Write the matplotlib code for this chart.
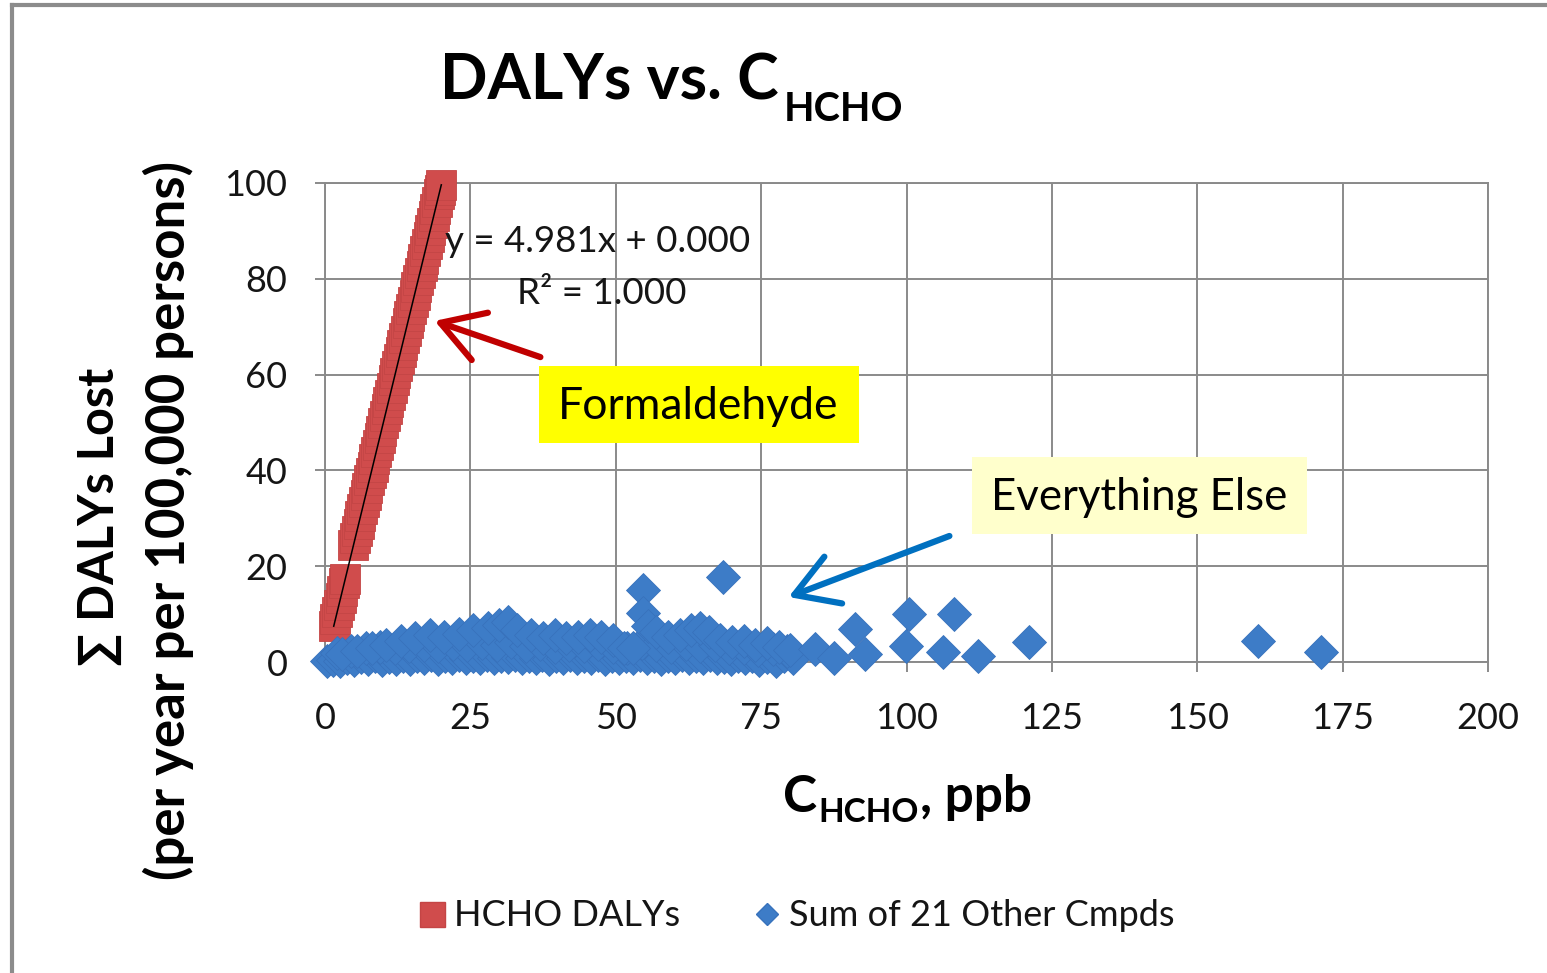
import matplotlib
matplotlib.use('Agg')
import matplotlib.pyplot as plt
import numpy as np
from matplotlib.lines import Line2D
from matplotlib.patches import Rectangle, FancyArrowPatch

plt.rcParams['font.family'] = ['Lato', 'DejaVu Sans']

# ---------------- data ----------------
red_x = [1.5, 1.8, 2.1, 2.4, 2.7, 3.0, 3.3, 3.5, 4.9, 5.2, 5.5, 5.8, 6.1, 6.4, 6.7,
         7.0, 7.3, 7.6, 7.9, 8.2, 8.5, 8.8, 9.1, 9.4, 9.7, 10.0, 10.3, 10.6, 10.9,
         11.2, 11.5, 11.8, 12.1, 12.4, 12.7, 13.0, 13.3, 13.6, 13.9, 14.2, 14.5,
         14.8, 15.1, 15.4, 15.7, 16.0, 16.3, 16.6, 16.9, 17.2, 17.5, 17.8, 18.1,
         18.4, 18.7, 19.0, 19.3, 19.6, 19.8, 20.0]
red_y = [7.5, 9.0, 10.5, 12.0, 13.4, 14.9, 16.4, 17.4, 24.4, 25.9, 27.4, 28.9, 30.4,
         31.9, 33.4, 34.9, 36.4, 37.9, 39.4, 40.8, 42.3, 43.8, 45.3, 46.8, 48.3,
         49.8, 51.3, 52.8, 54.3, 55.8, 57.3, 58.8, 60.3, 61.8, 63.3, 64.8, 66.2,
         67.7, 69.2, 70.7, 72.2, 73.7, 75.2, 76.7, 78.2, 79.7, 81.2, 82.7, 84.2,
         85.7, 87.2, 88.7, 90.2, 91.7, 93.1, 94.6, 96.1, 97.6, 98.6, 99.6]

blue_x = [0.3, 1.4, 2.6, 3.8, 5.0, 6.2, 7.4, 8.6, 9.8, 11.0, 12.2, 13.4, 14.6, 15.8,
          17.0, 18.2, 19.4, 20.6, 21.8, 23.0, 24.2, 25.4, 26.6, 27.8, 29.0, 30.2,
          31.4, 32.6, 33.8, 35.0, 36.2, 37.4, 38.6, 39.8, 41.0, 42.2, 43.4, 44.6,
          45.8, 47.0, 48.2, 49.4, 50.6, 51.8, 53.0, 54.2, 55.4, 56.6, 57.8, 59.0,
          60.2, 61.4, 62.6, 63.8, 65.0, 66.2, 67.4, 68.6, 69.8, 71.0, 72.2, 73.4,
          74.6, 76.0, 77.5, 79.0, 80.5,
          2.0, 4.5, 7.0, 9.5, 12.0, 14.5, 17.0, 19.5, 22.0, 24.5, 27.0, 29.5, 32.0,
          34.5, 37.0, 39.5, 42.0, 44.5, 47.0, 49.5, 52.0, 54.5, 57.0, 59.5, 62.0,
          64.5, 67.0, 69.5, 72.0, 74.5, 77.0, 79.5,
          3.0, 5.5, 8.0, 10.5, 13.0, 15.5, 18.0, 20.5, 23.0, 25.5, 28.0, 30.0, 31.5,
          33.0, 35.5, 37.5, 39.5, 41.5, 43.5, 45.5, 47.5, 49.5, 51.5, 53.0, 54.7,
          54.7, 55.5, 57.0, 59.0, 61.0, 63.0, 64.5, 66.0, 68.5, 68.0, 70.0, 72.0,
          74.0, 76.0, 78.0, 80.0,
          84.3, 87.6, 91.2, 92.9, 100.5, 99.9, 108.2, 106.2, 112.3, 121.1, 160.5, 171.2]
blue_y = [0.2, 0.5, 0.3, 0.8, 0.4, 1.0, 0.6, 1.2, 0.5, 1.1, 0.7, 1.3, 0.6, 1.2,
          0.8, 1.4, 0.7, 1.3, 0.9, 1.5, 0.8, 1.2, 0.9, 1.4, 0.8, 1.3,
          1.0, 1.5, 0.8, 1.2, 0.9, 1.4, 0.7, 1.3, 0.9, 1.5, 0.8, 1.2,
          0.9, 1.4, 0.7, 1.3, 0.9, 1.2, 0.8, 1.4, 0.9, 1.3, 0.7, 1.2,
          0.9, 1.4, 0.8, 1.2, 0.9, 1.4, 0.8, 1.1, 0.7, 1.2, 0.9, 1.3,
          0.5, 1.0, 0.3, 1.2, 0.8,
          1.8, 2.4, 2.9, 3.2, 3.0, 3.4, 3.6, 3.3, 3.8, 3.5, 4.0, 3.6, 4.2,
          3.4, 3.8, 3.2, 3.6, 3.3, 3.7, 3.1, 3.0, 3.9, 3.5, 3.2, 3.8,
          3.4, 3.6, 2.9, 3.0, 2.6, 2.8, 2.2,
          1.6, 2.2, 3.0, 3.6, 4.3, 5.0, 5.6, 5.3, 5.8, 6.6, 7.0, 7.8, 8.3,
          6.6, 5.6, 5.0, 5.6, 5.1, 5.3, 5.7, 5.3, 4.6, 3.0, 3.0, 15.0,
          10.2, 7.6, 6.2, 5.2, 5.6, 6.6, 7.0, 6.3, 17.8, 4.6, 4.2, 4.4,
          3.6, 3.9, 3.2, 2.6,
          2.7, 0.9, 6.9, 1.6, 10.0, 3.4, 10.0, 2.0, 1.3, 4.1, 4.4, 2.0]

x_ticks = [0, 25, 50, 75, 100, 125, 150, 175, 200]
y_ticks = [0, 20, 40, 60, 80, 100]

W, H = 1547, 973
RED = '#D04C4C'
RED_EDGE = '#C44545'
BLUE = '#3D7CC7'
BLUE_EDGE = '#3872BC'
GRID = '#8A8A8A'
TXT = '#151515'

fig = plt.figure(figsize=(W / 100, H / 100), dpi=100)
fig.patch.set_facecolor('white')

def fx(px):
    return px / W

def fy(py):
    return 1 - py / H

ax = fig.add_axes([fx(325), fy(662), (1488 - 325) / W, (662 - 183) / H])
ax.set_xlim(0, 200)
ax.set_ylim(0, 100)
ax.set_xticks(x_ticks)
ax.set_yticks(y_ticks)
ax.grid(True, color=GRID, lw=1.4, zorder=0)
ax.set_axisbelow(True)
for s in ax.spines.values():
    s.set_color(GRID)
    s.set_linewidth(1.4)
ax.tick_params(axis='both', direction='out', length=7, width=1.4, color=GRID,
               labelsize=26, labelcolor=TXT)
ax.tick_params(axis='y', pad=20)
ax.tick_params(axis='x', pad=22)

# series
ax.plot(red_x, red_y, linestyle='none', marker='s', markersize=21,
        markerfacecolor=RED, markeredgecolor=RED_EDGE, markeredgewidth=0.6,
        clip_on=False, zorder=3)
ax.plot(blue_x, blue_y, linestyle='none', marker='D', markersize=17.5,
        markerfacecolor=BLUE, markeredgecolor=BLUE_EDGE, markeredgewidth=0.6,
        clip_on=False, zorder=4)

# linear trendline fitted to red data
coef = np.polyfit(red_x, red_y, 1)
tx = np.array([min(red_x), max(red_x)])
ax.plot(tx, np.polyval(coef, tx), color='black', lw=1.1, zorder=5, clip_on=False)

# equation text
fig.text(fx(445), fy(242), 'y = 4.981x + 0.000', fontsize=26.5, va='center',
         ha='left', color=TXT)
fig.text(fx(517), fy(293), 'R² = 1.000', fontsize=26.5, va='center',
         ha='left', color=TXT)

r = fig.canvas.get_renderer()

# title
t1 = fig.text(fx(440), fy(99), 'DALYs vs. C', fontsize=45, fontweight='bold',
              ha='left', va='baseline')
bb = t1.get_window_extent(r)
fig.text((bb.x1 + 5) / W, fy(121), 'HCHO', fontsize=28.5, fontweight='bold',
         ha='left', va='baseline')

# x label
t2 = fig.text(fx(783), fy(812), 'C', fontsize=37, fontweight='bold',
              ha='left', va='baseline')
bb2 = t2.get_window_extent(r)
t3 = fig.text((bb2.x1 + 1) / W, fy(822), 'HCHO', fontsize=24, fontweight='bold',
              ha='left', va='baseline')
bb3 = t3.get_window_extent(r)
fig.text((bb3.x1 + 1) / W, fy(812), ', ppb', fontsize=37, fontweight='bold',
         ha='left', va='baseline')

# y label (two lines)
fig.text(fx(100), fy(517), '∑ DALYs Lost', fontsize=35, fontweight='bold',
         rotation=90, ha='center', va='center')
fig.text(fx(168), fy(520), '(per year per 100,000 persons)', fontsize=38,
         fontweight='bold', rotation=90, ha='center', va='center')

# highlight boxes
fig.patches.append(Rectangle((fx(539), fy(443)), (859 - 539) / W, (443 - 366) / H,
                             transform=fig.transFigure, facecolor='#FFFF00',
                             edgecolor='none', zorder=6))
fig.text(fx(698), fy(406), 'Formaldehyde', fontsize=32, ha='center', va='center',
         color='black', zorder=7)
fig.patches.append(Rectangle((fx(972), fy(534)), (1307 - 972) / W, (534 - 457) / H,
                             transform=fig.transFigure, facecolor='#FFFFCC',
                             edgecolor='none', zorder=6))
fig.text(fx(1139), fy(497), 'Everything Else', fontsize=31.5, ha='center',
         va='center', color='black', zorder=7)

# arrows
fig.add_artist(FancyArrowPatch(
    (fx(543), fy(358)), (fx(432), fy(320)), transform=fig.transFigure,
    arrowstyle='->,head_length=1.5,head_width=0.9', mutation_scale=20,
    color='#C00000', lw=4.5, zorder=8))
fig.add_artist(FancyArrowPatch(
    (fx(952), fy(535)), (fx(786), fy(598)), transform=fig.transFigure,
    arrowstyle='->,head_length=1.5,head_width=0.9', mutation_scale=20,
    color='#0070C0', lw=4.5, zorder=8))

# legend
handles = [Line2D([], [], linestyle='none', marker='s', markersize=18,
                  markerfacecolor=RED, markeredgecolor=RED_EDGE),
           Line2D([], [], linestyle='none', marker='D', markersize=11,
                  markerfacecolor=BLUE, markeredgecolor=BLUE_EDGE)]
fig.legend(handles, ['HCHO DALYs', 'Sum of 21 Other Cmpds'], loc='center',
           bbox_to_anchor=(fx(796), fy(916)), ncol=2, frameon=False,
           fontsize=26, handletextpad=0.2, columnspacing=2.0, handlelength=0.8,
           labelcolor=TXT)

# outer frame (top and left edges)
fig.add_artist(Line2D([fx(12), 1], [fy(5), fy(5)], transform=fig.transFigure,
                      color='#8C8C8C', lw=3))
fig.add_artist(Line2D([fx(12), fx(12)], [fy(5), 0], transform=fig.transFigure,
                      color='#8C8C8C', lw=3))

fig.savefig('out.png', dpi=100, facecolor='white')
